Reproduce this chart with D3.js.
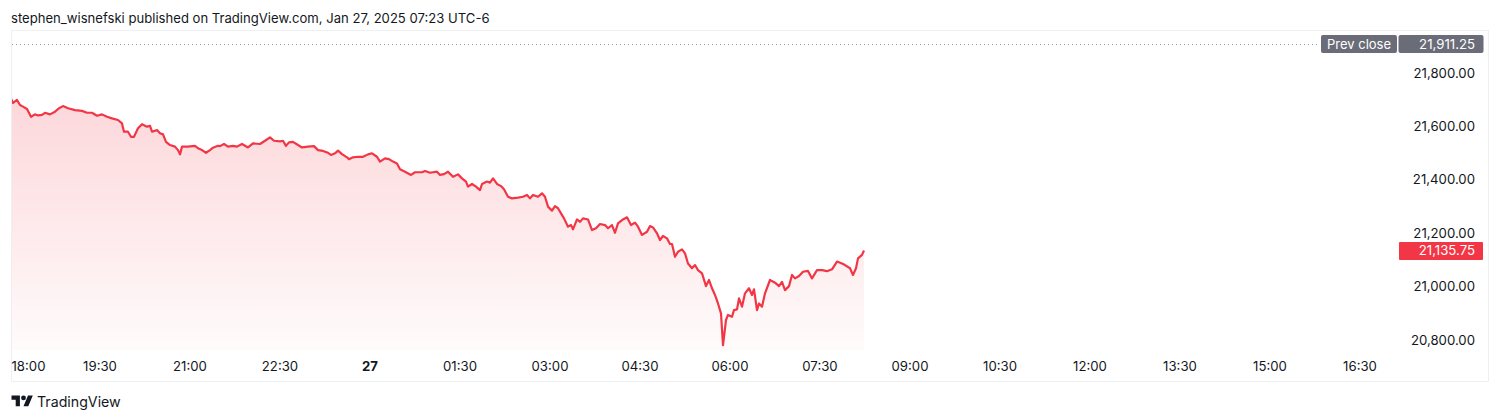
<!DOCTYPE html>
<html>
<head>
<meta charset="utf-8">
<script src="https://cdn.jsdelivr.net/npm/d3@7"></script>
<style>
  html, body { margin: 0; padding: 0; background: #ffffff; }
  svg { display: block; }
  text { font-family: Inter, "Liberation Sans", Arial, sans-serif; }
</style>
</head>
<body>
<svg id="chart" width="1500" height="420"></svg>
<script>
// ---------------- DATA ----------------
const headerText = "stephen_wisnefski published on TradingView.com, Jan 27, 2025 07:23 UTC-6";
const sessionStart = "2025-01-26T18:00:00";   // session open (first point)
// minutes elapsed since session start
const minutesFromStart = [
  0,3,7,10,13,17,21,25,28,32,35,40,45,49,53,58,65,72,77,82,87,92,97,102,108,112,114,118,121,124,
  128,132,137,140,142,147,150,153,156,160,165,168,170,172,178,185,188,192,196,200,203,208,
  210,214,218,223,227,232,238,243,250,255,260,264,270,273,276,279,283,288,292,298,304,308,313,318,
  321,325,328,332,337,339,343,348,353,358,362,367,370,375,379,383,387,390,395,401,405,412,415,420,
  427,430,434,438,443,448,452,456,458,462,466,470,472,477,480,483,487,491,494,498,502,508,513,517,
  520,523,528,532,535,538,542,545,548,551,554,558,561,563,567,570,573,578,582,586,590,595,598,602,
  605,608,613,617,621,625,628,632,637,640,643,647,650,653,657,660,662,665,668,672,675,678,682,685,
  688,692,696,699,702,705,708,711,713,716,718,722,724,727,729,732,735,739,742,744,747,749,752,755,
  760,765,769,772,775,779,782,785,789,793,798,802,807,812,817,822,827,832,835,840,843,846,848,852,854
];
const prices = [
  21712,21689,21700,21681,21675,21666,21637,21646,21642,21644,21652,21646,21656,21669,21677,21669,21662,21659,21652,21652,21641,21646,21637,21631,21625,21612,21581,21581,21562,21562,
  21594,21609,21600,21603,21581,21587,21575,21571,21543,21531,21525,21512,21496,21525,21525,21528,21519,21512,21502,21512,21521,21528,
  21527,21535,21525,21528,21525,21535,21522,21537,21535,21547,21560,21547,21545,21547,21528,21541,21543,21531,21522,21525,21527,21512,21509,21502,
  21494,21500,21510,21497,21485,21478,21485,21487,21487,21496,21500,21487,21469,21481,21478,21469,21462,21440,21431,21419,21429,21429,21434,21427,
  21431,21419,21422,21431,21412,21421,21406,21394,21375,21385,21375,21362,21385,21394,21390,21406,21385,21377,21365,21337,21331,21334,21337,21344,
  21331,21344,21337,21350,21337,21300,21285,21302,21294,21275,21256,21225,21231,21215,21252,21243,21256,21252,21212,21219,21235,21231,21219,21231,
  21202,21237,21252,21260,21231,21240,21225,21194,21206,21227,21222,21200,21175,21190,21181,21160,21160,21112,21131,21140,21125,21087,21069,21081,
  21062,21050,21002,21025,20994,20969,20937,20900,20781,20875,20894,20887,20912,20915,20956,20925,20975,20994,20969,20990,20912,20937,20925,20975,
  21025,21015,21002,21018,20987,21002,21044,21031,21040,21056,21059,21031,21062,21062,21058,21065,21094,21087,21081,21069,21044,21069,21106,21119,21135.75
];
const priceTicks = [20800, 21000, 21200, 21400, 21600, 21800];
const timeTickLabels = ["18:00","19:30","21:00","22:30","27","01:30","03:00","04:30","06:00","07:30","09:00","10:30","12:00","13:30","15:00","16:30"];
const prevClose = 21911.25;
const lastPrice = 21135.75;

// ---------------- LAYOUT ----------------
const frame = { left: 11, top: 30, right: 1488, bottom: 381 };
const plot = { left: 11, right: 1398, top: 30, bottom: 350 };
const colors = {
  text: "#131722", line: "#f23645", badge: "#6a6d78", dots: "#9598a1"
};

const svg = d3.select("#chart");
const t0 = new Date(sessionStart);
const dates = minutesFromStart.map(m => new Date(t0.getTime() + m * 60000));
const data = dates.map((d, i) => ({ date: d, price: prices[i] }));

const x = d3.scaleTime()
  .domain([t0, new Date(t0.getTime() + 1388 * 60000)])
  .range([10, 1398]);
const y = d3.scaleLinear().domain([20800, 21800]).range([340, 73.3]);

// header
svg.append("text")
  .attr("x", 11).attr("y", 22.5)
  .attr("font-size", 13.1).attr("fill", colors.text)
  .text(headerText);

// frame
svg.append("rect")
  .attr("x", frame.left + 0.5).attr("y", frame.top + 0.5)
  .attr("width", frame.right - frame.left).attr("height", frame.bottom - frame.top)
  .attr("fill", "none").attr("stroke", "#eef0f3").attr("stroke-width", 1);

// clip
svg.append("clipPath").attr("id", "plotclip")
  .append("rect").attr("x", plot.left + 1).attr("y", plot.top + 1)
  .attr("width", plot.right - plot.left - 1).attr("height", plot.bottom - plot.top);

// gradient
const defs = svg.append("defs");
const grad = defs.append("linearGradient").attr("id", "areaGrad")
  .attr("gradientUnits", "userSpaceOnUse")
  .attr("x1", 0).attr("x2", 0)
  .attr("y1", y(d3.max(prices))).attr("y2", plot.bottom);
grad.append("stop").attr("offset", 0).attr("stop-color", colors.line).attr("stop-opacity", 0.2);
grad.append("stop").attr("offset", 1).attr("stop-color", colors.line).attr("stop-opacity", 0.02);

const g = svg.append("g").attr("clip-path", "url(#plotclip)");

g.append("path").datum(data)
  .attr("fill", "url(#areaGrad)")
  .attr("d", d3.area().x(d => x(d.date)).y0(plot.bottom).y1(d => y(d.price)));

g.append("path").datum(data)
  .attr("fill", "none").attr("stroke", colors.line).attr("stroke-width", 2.2)
  .attr("stroke-linejoin", "round")
  .attr("d", d3.line().x(d => x(d.date)).y(d => y(d.price)));

// prev close dotted line
const yPrev = Math.round(y(prevClose)) + 0.5;
svg.append("line")
  .attr("x1", plot.left + 1).attr("x2", 1320)
  .attr("y1", yPrev).attr("y2", yPrev)
  .attr("stroke", colors.dots).attr("stroke-width", 1)
  .attr("stroke-dasharray", "1,3");

// price axis labels
const axisG = svg.append("g");
priceTicks.forEach(p => {
  axisG.append("text")
    .attr("x", 1475).attr("y", y(p) + 4.5)
    .attr("text-anchor", "end")
    .attr("font-size", 13.2).attr("fill", colors.text)
    .text(d3.format(",.2f")(p));
});

// prev close badges
svg.append("rect").attr("x", 1321).attr("y", yPrev - 9.5).attr("width", 76).attr("height", 18)
  .attr("rx", 2).attr("fill", colors.badge);
svg.append("text").attr("x", 1359).attr("y", yPrev + 4.5).attr("text-anchor", "middle")
  .attr("font-size", 13).attr("fill", "#ffffff").text("Prev close");
svg.append("rect").attr("x", 1398.5).attr("y", yPrev - 9.5).attr("width", 85).attr("height", 18)
  .attr("rx", 2).attr("fill", colors.badge);
svg.append("text").attr("x", 1475).attr("y", yPrev + 4.5).attr("text-anchor", "end")
  .attr("font-size", 13.2).attr("fill", "#ffffff").text(d3.format(",.2f")(prevClose));

// last price badge
const yLast = y(lastPrice);
svg.append("rect").attr("x", 1399).attr("y", yLast - 8.5).attr("width", 84).attr("height", 18)
  .attr("rx", 1).attr("fill", colors.line);
svg.append("text").attr("x", 1475).attr("y", yLast + 5)
  .attr("text-anchor", "end").attr("font-size", 13.2).attr("fill", "#ffffff")
  .text(d3.format(",.2f")(lastPrice));

// time axis labels
timeTickLabels.forEach((lab, i) => {
  const d = new Date(t0.getTime() + i * 90 * 60000);
  const txt = svg.append("text")
    .attr("y", 371)
    .attr("font-size", 13.2).attr("fill", colors.text)
    .attr("font-weight", lab === "27" ? 700 : 400)
    .text(lab);
  if (i === 0) {
    txt.attr("x", 11.5).attr("text-anchor", "start");
  } else {
    txt.attr("x", x(d)).attr("text-anchor", "middle");
  }
});

// TradingView logo
const logo = svg.append("g").attr("transform", "translate(11.5,395.5) scale(0.6)").attr("fill", colors.text);
logo.append("path").attr("d", "M14 22H7V11H0V4h14v18zM28 22h-8l7.5-18h8L28 22z").attr("transform", "translate(0,-4)");
logo.append("circle").attr("cx", 20).attr("cy", 4).attr("r", 4);
svg.append("text").attr("x", 37).attr("y", 407)
  .attr("font-size", 14.2).attr("fill", colors.text)
  .text("TradingView");
</script>
</body>
</html>
